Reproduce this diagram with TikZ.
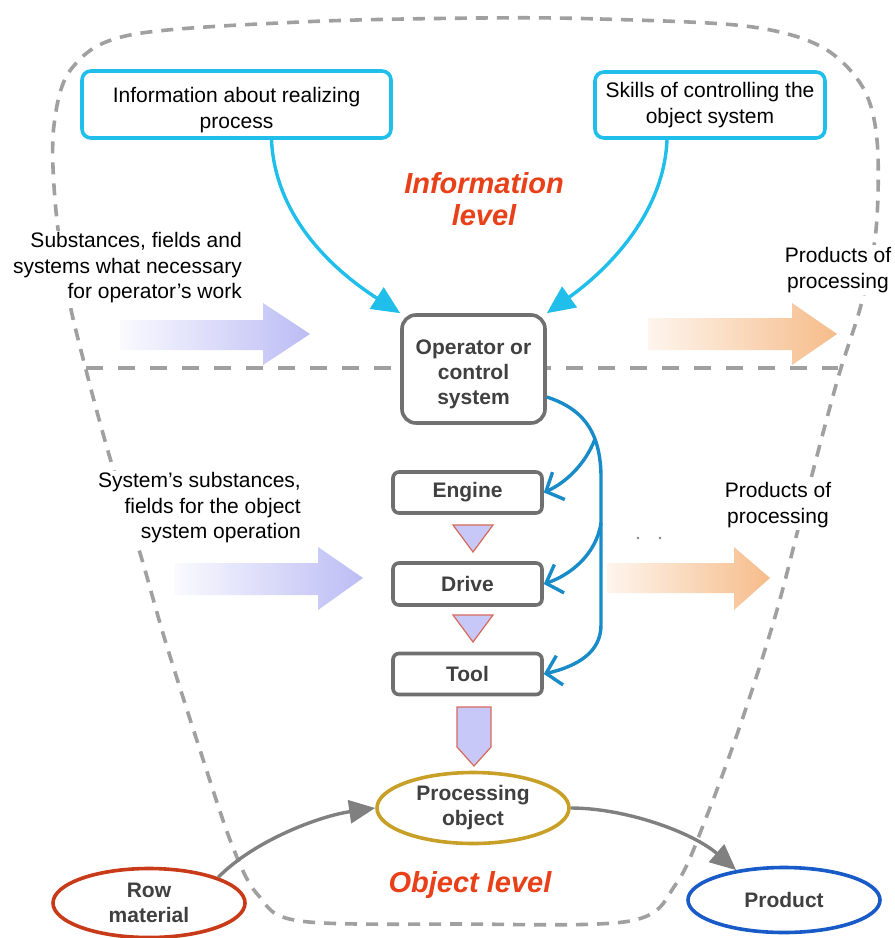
\documentclass[tikz,border=0pt]{standalone}
\usepackage{fontspec}
\setmainfont{Liberation Sans}
\usetikzlibrary{arrows.meta,shapes.geometric}

\definecolor{dashgray}{RGB}{160,160,160}
\definecolor{cCyan}{RGB}{32,190,235}
\definecolor{cBlue}{RGB}{24,140,200}
\definecolor{cBox}{RGB}{112,112,112}
\definecolor{cBoxText}{RGB}{64,64,64}
\definecolor{cLevel}{RGB}{232,64,24}
\definecolor{cLav}{RGB}{188,188,245}
\definecolor{cTri}{RGB}{200,200,248}
\definecolor{cTriEdge}{RGB}{215,105,90}
\definecolor{cPeach}{RGB}{246,188,138}
\definecolor{cRow}{RGB}{200,58,24}
\definecolor{cProc}{RGB}{200,160,40}
\definecolor{cProd}{RGB}{24,90,200}
\definecolor{cFlow}{RGB}{128,128,128}

\newcommand\dgLabelFont{\fontsize{21}{25.5}\selectfont}
\newcommand\dgBoxFont{\fontsize{21}{25}\selectfont\bfseries}
\newcommand\dgLevelFont{\fontsize{29}{32}\selectfont\bfseries\itshape}
% centred lines, set lower inside their frame by half of the first argument
\newcommand\dgLowered[2]{\raisebox{0pt}[\dimexpr\height+#1\relax][\depth]{\begin{tabular}{@{}c@{}}#2\end{tabular}}}

\begin{document}
\begin{tikzpicture}[x=1pt,y=-1pt,
  outline/.style={draw=dashgray, line width=3.6pt, dash pattern=on 12pt off 9pt},
  divider/.style={draw=dashgray, line width=3.6pt, dash pattern=on 17pt off 15pt},
  infobox/.style={draw=cCyan, line width=3.6pt, rounded corners=9pt, fill=white,
    align=center, font=\dgLabelFont, inner sep=2pt},
  ctrlbox/.style={draw=cBox, line width=3.6pt, fill=white, align=center,
    font=\dgBoxFont, text=cBoxText, inner sep=2pt},
  oval/.style={ellipse, line width=3.6pt, fill=white, align=center,
    font=\dgBoxFont, text=cBoxText, inner sep=0pt},
  lbl/.style={fill=white, font=\dgLabelFont, inner sep=2pt},
  level/.style={text=cLevel, font=\dgLevelFont, align=center},
  cyanarrow/.style={draw=cCyan, line width=3.4pt, -{Triangle[length=28pt,width=25pt]}},
  ctrlarrow/.style={draw=cBlue, line width=3.4pt, -{Straight Barb[length=14pt,width=30pt]}},
  flowarrow/.style={draw=cFlow, line width=3.4pt, -{Triangle[length=26pt,width=23pt]}},
  wedge/.style={fill=cTri, draw=cTriEdge, line width=1.2pt, line join=miter}
]
\useasboundingbox (0,0) rectangle (895,938);
\fill[white] (0,0) rectangle (895,938);

% dashed funnel around both levels
\draw[outline] plot[smooth cycle, tension=0.55] coordinates {
  (480,18) (600,19) (745,26) (820,46) (862,86) (877,140) (876,230) (861,305)
  (838,378) (808,490) (777,610) (742,720) (706,818) (676,884) (630,921)
  (460,924) (300,921) (258,895) (232,845) (200,750) (165,640) (140,553)
  (110,458) (86,370) (67,290) (55,200) (54,125) (72,68) (130,35) (300,22)};
% border between information level and object level
\draw[divider] (86,368) -- (838,368);

% input and output flows
\shade[left color=cLav!8, right color=cLav]
  (120,320) -- (263,320) -- (263,303) -- (310,334) -- (263,365) -- (263,350) -- (120,350) -- cycle;
\shade[left color=cLav!8, right color=cLav]
  (175,563) -- (318,563) -- (318,547) -- (363,578) -- (318,610) -- (318,595) -- (175,595) -- cycle;
\shade[left color=cPeach!15, right color=cPeach]
  (648,318) -- (792,318) -- (792,303) -- (837,334) -- (792,365) -- (792,350) -- (648,350) -- cycle;
\shade[left color=cPeach!15, right color=cPeach]
  (607,563) -- (734,563) -- (734,547) -- (770,578) -- (734,610) -- (734,593) -- (607,593) -- cycle;

% side labels
\node[lbl, align=right, anchor=east] (subst) at (244,268)
  {Substances, fields and\\systems what necessary\\for operator's work};
\node[lbl, align=right, anchor=east] (sysst) at (303,508)
  {System's substances,\\fields for the object\\system operation};
\node[lbl, align=center] (prodtop) at (838,270) {Products of\\processing};
\node[lbl, align=center] (prodmid) at (778,505) {Products of\\processing};
\fill[cFlow] (638,538) circle (1.3pt) (660,538) circle (1.3pt);

% level titles
\node[level] (infolvl) at (484,199) {Information\\level};
\node[level] (objlvl) at (470,885) {Object level};

% information sources
\node[infobox, minimum width=309pt, minimum height=65pt] (info) at (236.5,104.5)
  {\dgLowered{12pt}{Information about realizing\\process}};
\node[infobox, minimum width=230pt, minimum height=66pt] (skills) at (710,105)
  {Skills of controlling the\\object system};

% control chain
\node[ctrlbox, rounded corners=14pt, minimum width=143pt, minimum height=108pt] (op)
  at (473.5,369) {\dgLowered{10pt}{Operator or\\control\\system}};
\node[ctrlbox, rounded corners=6pt, minimum width=149pt, minimum height=41pt] (engine)
  at (467.5,492.5) {Engine};
\node[ctrlbox, rounded corners=6pt, minimum width=149pt, minimum height=42pt] (drive)
  at (467.5,584) {Drive};
\node[ctrlbox, rounded corners=6pt, minimum width=149pt, minimum height=41pt] (tool)
  at (467.5,674) {Tool};

\draw[wedge] (453,525) -- (493,525) -- (473,552) -- cycle;
\draw[wedge] (453,615) -- (493,615) -- (473,642) -- cycle;
\draw[wedge] (457,707) -- (491,707) -- (491,747) -- (474,766) -- (457,747) -- cycle;

% object level
\node[oval, draw=cProc, minimum width=192pt, minimum height=71pt] (proc) at (473,808)
  {Processing\\object};
\node[oval, draw=cRow, minimum width=192pt, minimum height=69pt] (row) at (149,903)
  {Row\\material};
\node[oval, draw=cProd, minimum width=192pt, minimum height=65pt] (prod) at (784,900)
  {Product};

% information feeding the operator
\draw[cyanarrow] ([xshift=35pt]info.south) .. controls (275,215) and (330,268) .. (op.north west);
\draw[cyanarrow] ([xshift=-43pt]skills.south) .. controls (664,212) and (610,268) .. (op.north east);

% control links from the operator
\coordinate (b1) at (595,439);
\coordinate (b2) at (601,523);
\draw[ctrlarrow] ([yshift=-28pt]op.east) .. controls (580,408) and (600,428) .. (601,475)
  -- (601,625) .. controls (601,652) and (578,666) .. (tool.east);
\draw[ctrlarrow] (b1) .. controls (585,465) and (565,483) .. (engine.east);
\draw[ctrlarrow] (b2) .. controls (596,555) and (570,575) .. (drive.east);

% material flow
\draw[flowarrow] (row.north east) .. controls (255,840) and (320,816) .. (proc.west);
\draw[flowarrow] (proc.east) .. controls (625,808) and (692,832) .. (prod.148);
\end{tikzpicture}
\end{document}
